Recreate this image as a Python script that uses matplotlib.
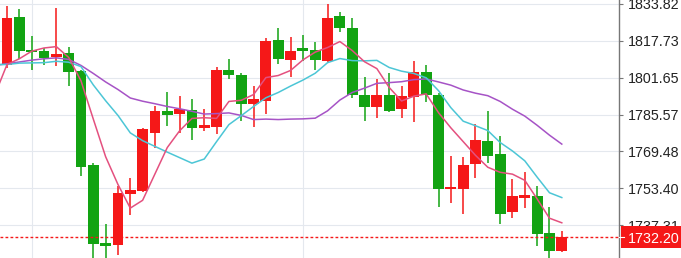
import numpy as np
import matplotlib
matplotlib.use("Agg")
import matplotlib.pyplot as plt
from matplotlib import transforms
from matplotlib.patches import Rectangle

# ==============================
# DATA
# ==============================
opens = [1807.0, 1828.0, 1813.9, 1813.2, 1810.6, 1812.2, 1804.5, 1763.4, 1729.6, 1728.6,
         1751.0, 1752.2, 1777.6, 1787.3, 1785.9, 1787.5, 1779.8, 1780.1, 1805.2, 1802.7,
         1790.4, 1791.7, 1818.3, 1809.3, 1813.9, 1813.6, 1808.8, 1828.5, 1823.4, 1794.0,
         1788.9, 1794.3, 1787.8, 1793.3, 1804.2, 1794.3, 1753.3, 1753.3, 1764.1, 1774.0,
         1768.6, 1743.0, 1749.2, 1750.0, 1734.0, 1726.0]
highs = [1832.8, 1831.4, 1819.7, 1814.6, 1832.1, 1814.9, 1805.0, 1764.5, 1737.9, 1754.4,
         1758.0, 1779.8, 1789.2, 1795.5, 1793.6, 1792.4, 1788.2, 1806.4, 1809.6, 1803.7,
         1797.9, 1819.0, 1823.4, 1819.3, 1820.2, 1817.3, 1833.8, 1830.3, 1827.5, 1801.9,
         1800.9, 1803.7, 1798.2, 1808.8, 1807.0, 1794.8, 1767.4, 1767.1, 1781.5, 1787.3,
         1776.4, 1757.3, 1760.6, 1754.4, 1745.2, 1734.7]
lows = [1805.8, 1809.6, 1805.2, 1807.4, 1806.7, 1798.0, 1758.7, 1720.0, 1721.5, 1724.3,
        1742.0, 1751.7, 1771.0, 1780.5, 1777.6, 1774.7, 1778.6, 1776.9, 1800.9, 1782.7,
        1780.1, 1785.9, 1807.7, 1801.9, 1808.8, 1805.2, 1808.3, 1821.6, 1792.6, 1782.7,
        1784.1, 1786.5, 1783.9, 1782.4, 1791.0, 1745.2, 1747.1, 1742.3, 1758.0, 1764.5,
        1737.9, 1740.5, 1744.9, 1728.2, 1720.0, 1725.5]
closes = [1827.7, 1813.5, 1812.9, 1810.3, 1811.8, 1804.0, 1762.6, 1729.2, 1728.2, 1751.4,
          1752.5, 1779.5, 1787.0, 1785.6, 1787.8, 1779.8, 1780.9, 1805.2, 1802.7, 1790.4,
          1792.4, 1817.6, 1810.0, 1813.5, 1813.5, 1809.3, 1827.7, 1823.1, 1793.9, 1788.8,
          1794.3, 1787.0, 1793.6, 1804.2, 1793.9, 1753.2, 1754.0, 1763.8, 1774.3, 1767.7,
          1742.3, 1750.0, 1750.3, 1733.6, 1726.0, 1732.2]

# moving average lines, starting one bar before the first visible candle
ma_fast = [1794.0, 1807.4, 1809.9, 1813.2, 1814.6, 1815.2, 1810.5, 1800.3, 1783.6, 1767.2,
           1755.1, 1744.8, 1748.2, 1759.7, 1771.2, 1778.5, 1783.9, 1784.2, 1783.9, 1791.3,
           1791.8, 1794.3, 1801.7, 1802.6, 1804.8, 1809.4, 1812.8, 1814.8, 1817.4, 1813.5,
           1808.6, 1805.6, 1797.4, 1791.5, 1793.6, 1794.6, 1786.4, 1779.8, 1773.8, 1767.8,
           1762.6, 1760.4, 1759.6, 1756.9, 1748.8, 1740.4, 1738.4]
ma_mid = [1807.4, 1807.4, 1808.0, 1808.1, 1808.2, 1808.8, 1808.4, 1806.5, 1798.5, 1791.6,
          1785.2, 1777.6, 1774.2, 1771.7, 1769.2, 1766.8, 1764.4, 1766.2, 1773.8, 1781.2,
          1785.1, 1789.1, 1792.9, 1795.2, 1798.0, 1800.6, 1803.6, 1808.2, 1810.0, 1809.1,
          1809.0, 1809.2, 1806.1, 1804.5, 1803.5, 1801.6, 1796.0, 1788.6, 1782.7, 1780.7,
          1778.6, 1773.4, 1769.7, 1765.4, 1758.3, 1751.5, 1749.4]
ma_slow = [1807.0, 1807.7, 1808.5, 1809.3, 1809.9, 1810.3, 1809.6, 1807.0, 1803.5, 1799.8,
           1796.5, 1792.8, 1791.4, 1790.3, 1789.1, 1788.1, 1787.0, 1785.8, 1786.0, 1786.3,
           1785.2, 1783.4, 1783.6, 1783.4, 1783.6, 1783.7, 1784.0, 1787.2, 1791.9, 1795.2,
           1797.1, 1799.2, 1799.5, 1799.9, 1800.8, 1801.1, 1799.8, 1798.4, 1796.3, 1794.9,
           1793.8, 1791.3, 1787.9, 1784.9, 1780.9, 1776.6, 1772.7]

price_ticks = [1721.23, 1737.31, 1753.40, 1769.48, 1785.57, 1801.65, 1817.73, 1833.82]
tick_labels = ["%.2f" % t for t in price_ticks]
vgrid_bars = [2, 24]

UP = "#f51818"
DOWN = "#12a312"

# ==============================
# PLOT
# ==============================
plt.rcParams['font.family'] = ['Liberation Sans', 'DejaVu Sans']

fig = plt.figure(figsize=(6.81, 2.58), dpi=100)
ax = fig.add_axes([0, -32 / 258, 619 / 681, 290 / 258])
ax.set_xlim(-0.568, 49.64)
ax.set_ylim(1709.1, 1835.52)

o = np.array(opens)
c = np.array(closes)
h = np.array(highs)
l = np.array(lows)
x = np.arange(len(o))
colors = [UP if cc >= oo else DOWN for oo, cc in zip(o, c)]

bottoms = np.minimum(o, c)
heights = np.maximum(np.abs(c - o), 0.9)

ax.vlines(x, l, h, colors=colors, lw=1.1, zorder=2)
ax.bar(x, heights, bottom=bottoms, width=0.88, color=colors, linewidth=0, zorder=2.1)

mx = np.arange(-1, len(o))
ax.plot(mx, ma_slow, color="#a653c6", lw=1.1, zorder=3)
ax.plot(mx, ma_mid, color="#4cc6d6", lw=1.1, zorder=3)
ax.plot(mx, ma_fast, color="#e4507f", lw=1.1, zorder=3)

# axes styling
for side in ['top', 'left', 'bottom']:
    ax.spines[side].set_visible(False)
ax.spines['right'].set_color('#777777')
ax.spines['right'].set_linewidth(1.0)

ax.set_yticks(price_ticks)
ax.set_yticklabels(tick_labels)
ax.yaxis.tick_right()
ax.tick_params(axis='y', direction='out', length=3, width=0.8, color='#777777',
               pad=3.2, labelsize=10.3, labelcolor='#222222')
ax.set_xticks(vgrid_bars)
ax.tick_params(axis='x', length=0, labelbottom=False)
ax.grid(True, color='#e4e8ee', lw=0.8)
ax.set_axisbelow(True)

# last price marker
last = closes[-1]
ax.axhline(last, color=UP, lw=1.0, ls=(0, (2, 1.6)), zorder=3)
trans = transforms.blended_transform_factory(ax.transAxes, ax.transData)
ax.add_patch(Rectangle((1.0025, last - 4.6), 0.2, 9.2, transform=trans,
                       facecolor=UP, edgecolor='none', clip_on=False, zorder=6))
ax.plot([1.0, 1 + 5 / 619], [last, last], transform=trans, color='white',
        lw=0.8, clip_on=False, zorder=7)
ax.text(1 + 8.5 / 619, last, "%.2f" % last, transform=trans, color='white',
        fontsize=10.3, va='center_baseline', ha='left', zorder=7, clip_on=False)

fig.savefig("out.png", dpi=100)
